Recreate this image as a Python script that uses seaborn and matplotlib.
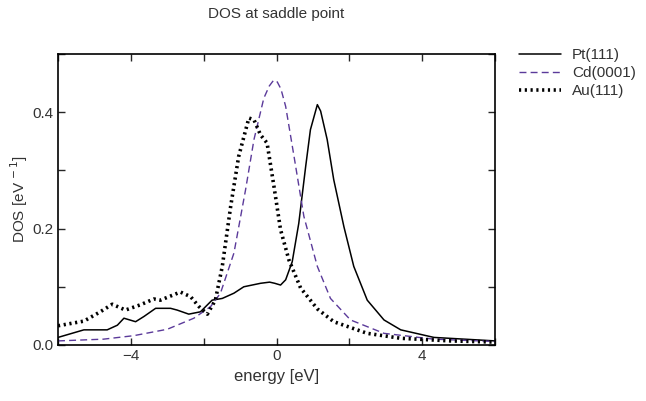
#!/usr/bin/env python3
"""
DOS at saddle point for Pt(111), Cd(0001) and Au(111).
"""
import numpy as np
import pandas as pd
import matplotlib
matplotlib.use("Agg")
import matplotlib.pyplot as plt
import seaborn as sns

# Data
pt_energy = [-6.0, -5.29, -4.65, -4.37, -4.19, -3.87, -3.64, -3.32, -2.91, -2.73,
             -2.41, -2.09, -1.77, -1.49, -1.17, -0.90, -0.44, -0.19, -0.05, 0.11,
             0.25, 0.43, 0.61, 0.80, 0.93, 1.12, 1.21, 1.39, 1.57, 1.85,
             2.12, 2.49, 2.95, 3.41, 4.32, 6.0]
pt_dos = [0.013, 0.026, 0.026, 0.034, 0.046, 0.040, 0.049, 0.063, 0.063, 0.060,
          0.053, 0.057, 0.077, 0.080, 0.089, 0.100, 0.106, 0.108, 0.106, 0.103,
          0.112, 0.143, 0.209, 0.307, 0.370, 0.413, 0.402, 0.353, 0.284, 0.203,
          0.135, 0.077, 0.043, 0.026, 0.013, 0.007]

cd_energy = [-6.0, -4.75, -3.92, -3.0, -2.27, -1.81, -1.54, -1.17, -0.85, -0.62,
             -0.35, -0.20, -0.08, 0.02, 0.12, 0.25, 0.48, 0.75, 1.12, 1.48, 2.03,
             2.95, 4.32, 6.0]
cd_dos = [0.007, 0.010, 0.016, 0.027, 0.046, 0.066, 0.089, 0.158, 0.267, 0.353,
          0.424, 0.445, 0.455, 0.452, 0.440, 0.410, 0.324, 0.221, 0.135, 0.080,
          0.043, 0.020, 0.010, 0.006]

au_energy = [-6.0, -5.29, -4.84, -4.51, -4.15, -3.74, -3.37, -3.19, -2.64, -2.36,
             -2.13, -1.90, -1.68, -1.49, -1.26, -1.04, -0.76, -0.62, -0.44, -0.26,
             -0.07, 0.11, 0.34, 0.66, 1.12, 1.57, 2.49, 3.41, 4.78, 6.0]
au_dos = [0.033, 0.041, 0.057, 0.070, 0.060, 0.069, 0.079, 0.077, 0.091, 0.083,
          0.066, 0.053, 0.077, 0.135, 0.238, 0.324, 0.390, 0.387, 0.361, 0.347,
          0.272, 0.198, 0.146, 0.098, 0.062, 0.040, 0.020, 0.0115, 0.007, 0.005]

labels = ["Pt(111)", "Cd(0001)", "Au(111)"]

# Style
sns.set_style("ticks")
plt.rcParams['font.family'] = ['Liberation Sans', 'DejaVu Sans']
TEXT_COLOR = "#333333"


def main():
    fig = plt.figure(figsize=(6.46, 4.01), dpi=100)
    ax = fig.add_axes([0.0898, 0.1397, 0.6766, 0.7256])

    sns.lineplot(x=pt_energy, y=pt_dos, ax=ax, color="black", linewidth=1.1,
                 label=labels[0])
    cd = sns.lineplot(x=cd_energy, y=cd_dos, ax=ax, color="#5b3a9a", linewidth=1.0,
                      label=labels[1])
    cd.lines[-1].set_linestyle((0, (5, 3)))
    au = sns.lineplot(x=au_energy, y=au_dos, ax=ax, color="black", linewidth=2.6,
                      label=labels[2])
    au.lines[-1].set_linestyle((0, (0.6, 1.0)))

    ax.set_xlim(-6, 6)
    ax.set_ylim(0, 0.5)
    xt = np.arange(-6, 7, 2)
    ax.set_xticks(xt)
    ax.set_xticklabels(["" if v not in (-4, 0, 4) else ("\u22124" if v == -4 else str(v))
                        for v in xt])
    ax.set_yticks(np.arange(0, 0.51, 0.1))
    ax.set_yticklabels(["0.0", "", "0.2", "", "0.4", ""])
    ax.tick_params(direction="in", top=True, right=True, length=5, width=1,
                   labelsize=11, labelcolor=TEXT_COLOR, pad=3)
    for s in ax.spines.values():
        s.set_visible(True)
        s.set_linewidth(1.2)
        s.set_color("black")

    ax.set_xlabel("energy [eV]", fontsize=12, color=TEXT_COLOR)
    ax.set_ylabel("DOS [eV$^{\\,-1}$]", fontsize=11, color=TEXT_COLOR, labelpad=2)
    fig.text(0.428, 0.965, "DOS at saddle point", ha="center", va="center",
             fontsize=11, color=TEXT_COLOR)

    leg = ax.legend(loc="upper left", bbox_to_anchor=(1.04, 1.04), frameon=False,
                    fontsize=11, handlelength=2.8, handletextpad=0.7,
                    labelspacing=0.25, borderaxespad=0)
    for t in leg.get_texts():
        t.set_color(TEXT_COLOR)

    fig.savefig("out.png", dpi=100)
    plt.close(fig)


if __name__ == "__main__":
    main()
